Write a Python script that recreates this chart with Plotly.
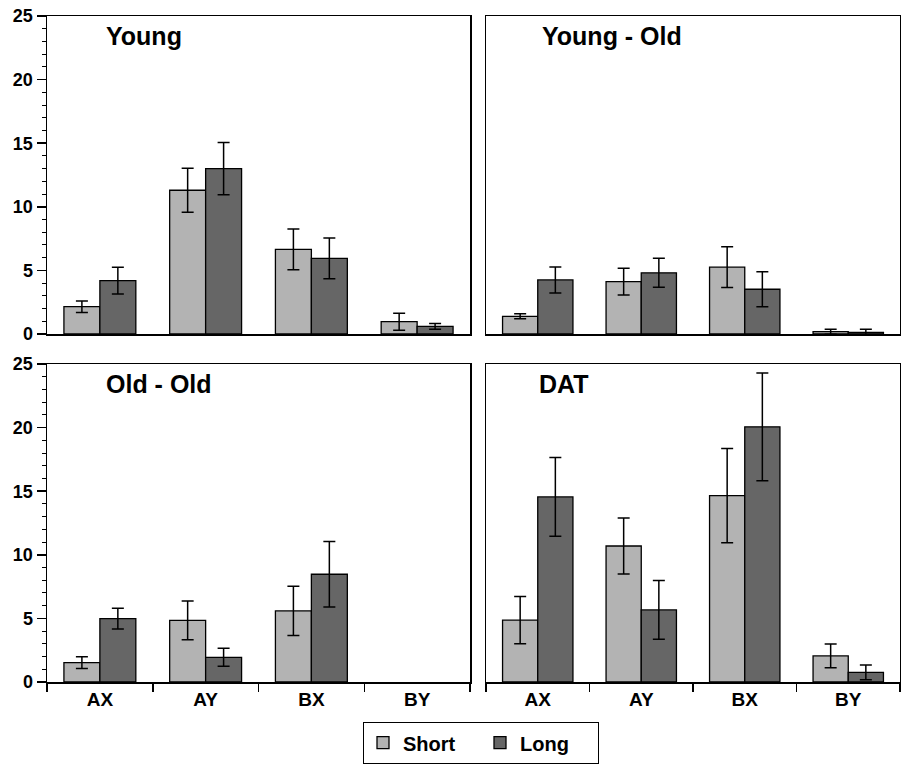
import plotly.graph_objects as go

categories = ["AX", "AY", "BX", "BY"]
panels = ["Young", "Young - Old", "Old - Old", "DAT"]

young_short = [2.15, 11.3, 6.65, 0.97]
young_short_err = [0.45, 1.73, 1.6, 0.67]
young_long = [4.2, 13.0, 5.95, 0.6]
young_long_err = [1.05, 2.05, 1.6, 0.23]

yo_short = [1.39, 4.12, 5.25, 0.18]
yo_short_err = [0.2, 1.05, 1.6, 0.2]
yo_long = [4.25, 4.81, 3.52, 0.13]
yo_long_err = [1.02, 1.14, 1.37, 0.25]

oo_short = [1.52, 4.85, 5.59, None]
oo_short_err = [0.46, 1.52, 1.94, None]
oo_long = [4.98, 1.94, 8.47, None]
oo_long_err = [0.82, 0.71, 2.57, None]

dat_short = [4.86, 10.69, 14.65, 2.05]
dat_short_err = [1.86, 2.2, 3.7, 0.93]
dat_long = [14.55, 5.67, 20.06, 0.76]
dat_long_err = [3.1, 2.31, 4.24, 0.58]

short_vals = [young_short, yo_short, oo_short, dat_short]
short_errs = [young_short_err, yo_short_err, oo_short_err, dat_short_err]
long_vals = [young_long, yo_long, oo_long, dat_long]
long_errs = [young_long_err, yo_long_err, oo_long_err, dat_long_err]

SHORT_COLOR = "#b3b3b3"
LONG_COLOR = "#666666"
FONT = "Liberation Sans, Arial, Helvetica, sans-serif"

W, H = 901, 765
xdom = [[47 / W, 470 / W], [486 / W, 900 / W]]
ydom_top = [(H - 334) / H, (H - 16) / H]
ydom_bot = [(H - 682) / H, (H - 364) / H]
layout_pos = [
    (xdom[0], ydom_top),
    (xdom[1], ydom_top),
    (xdom[0], ydom_bot),
    (xdom[1], ydom_bot),
]

fig = go.Figure()
for i in range(4):
    xa = "x" if i == 0 else f"x{i + 1}"
    ya = "y" if i == 0 else f"y{i + 1}"
    fig.add_trace(go.Bar(
        x=categories, y=short_vals[i], name="Short",
        marker=dict(color=SHORT_COLOR, line=dict(color="black", width=1.3)),
        error_y=dict(type="data", array=short_errs[i], visible=True,
                     color="black", thickness=1.5, width=6),
        xaxis=xa, yaxis=ya, showlegend=(i == 0), legendgroup="s",
        offsetgroup="s",
    ))
    fig.add_trace(go.Bar(
        x=categories, y=long_vals[i], name="Long",
        marker=dict(color=LONG_COLOR, line=dict(color="black", width=1.3)),
        error_y=dict(type="data", array=long_errs[i], visible=True,
                     color="black", thickness=1.5, width=6),
        xaxis=xa, yaxis=ya, showlegend=(i == 0), legendgroup="l",
        offsetgroup="l",
    ))

layout = dict(
    width=W, height=H,
    margin=dict(l=0, r=0, t=0, b=0, autoexpand=False),
    paper_bgcolor="white", plot_bgcolor="white",
    barmode="group", bargap=0.32, bargroupgap=0,
    font=dict(family=FONT, color="black"),
    legend=dict(
        orientation="h", x=481 / W, xanchor="center",
        y=(H - 722) / H, yanchor="top",
        bordercolor="black", borderwidth=1.2,
        font=dict(size=20, family=FONT, weight="bold", color="black"),
        entrywidth=72,
    ),
)

title_pos = [(104, 36), (540, 36), (104, 384), (537, 384)]
annotations = []
for i in range(4):
    xd, yd = layout_pos[i]
    xkey = "xaxis" if i == 0 else f"xaxis{i + 1}"
    ykey = "yaxis" if i == 0 else f"yaxis{i + 1}"
    left = i in (0, 2)
    bottom = i in (2, 3)
    layout[xkey] = dict(
        domain=xd, anchor="y" if i == 0 else f"y{i + 1}",
        type="category", range=[-0.5, 3.5], automargin=False,
        showline=True, linecolor="black", linewidth=1.5, mirror=True,
        showgrid=False, zeroline=False,
        showticklabels=bottom,
        ticks="outside" if bottom else "",
        tickson="boundaries", ticklen=8, tickwidth=1.5, tickcolor="black",
        tickfont=dict(size=19, family=FONT, weight="bold", color="black"),
        fixedrange=True,
    )
    layout[ykey] = dict(
        domain=yd, anchor="x" if i == 0 else f"x{i + 1}",
        range=[0, 25], automargin=False,
        showline=True, linecolor="black", linewidth=1.5, mirror=True,
        showgrid=False, zeroline=False,
        showticklabels=left,
        ticks="outside" if left else "",
        tickvals=[0, 5, 10, 15, 20, 25] if left else None,
        ticklen=9, tickwidth=1.5, tickcolor="black",
        tickfont=dict(size=18, family=FONT, weight="bold", color="black"),
        minor=dict(ticks="outside", dtick=1, ticklen=4, tickwidth=1,
                   tickcolor="black") if left else dict(ticks=""),
        fixedrange=True,
    )
    tx, ty = title_pos[i]
    annotations.append(dict(
        text=panels[i], xref="paper", yref="paper",
        x=tx / W, y=1 - ty / H, xanchor="left", yanchor="middle",
        showarrow=False,
        font=dict(size=25, family=FONT, weight="bold", color="black"),
    ))
layout["annotations"] = annotations
fig.update_layout(**layout)

fig.write_html(
    "out.html",
    config={"displayModeBar": False, "staticPlot": True},
    post_script="document.body.style.margin='0';document.body.style.overflow='hidden';",
)
